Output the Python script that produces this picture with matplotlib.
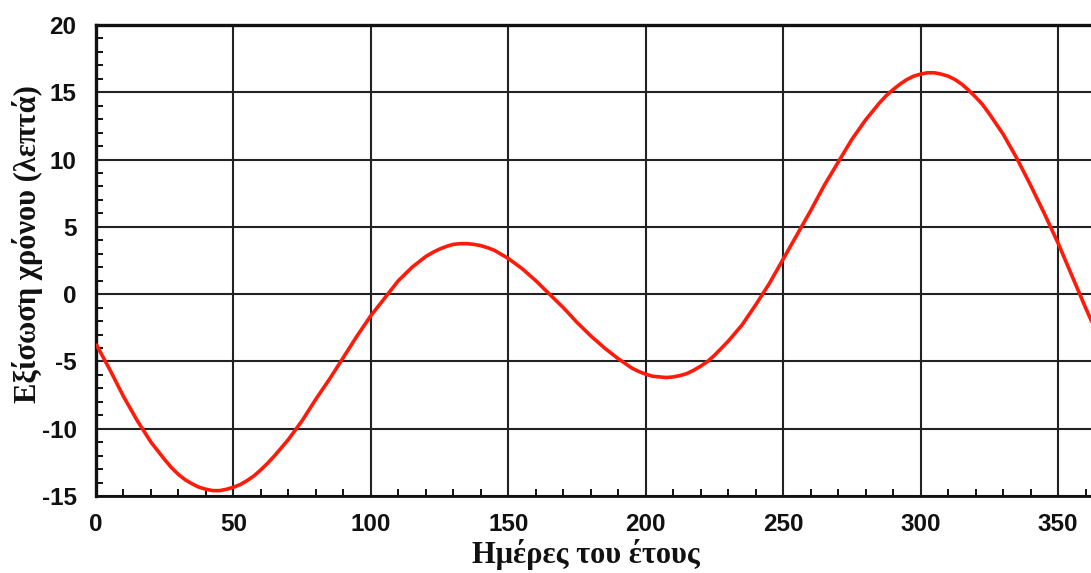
"""
Equation of time over the days of the year (Greek labels).
"""
import matplotlib
matplotlib.use("Agg")
import matplotlib.pyplot as plt
from matplotlib.ticker import MultipleLocator

plt.rcParams["axes.unicode_minus"] = False

# day of year (denser around the turning points)
days = [
    0, 5, 10, 15, 20, 25, 27.5, 30, 32.5, 35, 37.5, 40, 42.5, 45, 47.5,
    50, 52.5, 55, 57.5, 60, 62.5, 65, 70, 75, 80, 85, 90, 95, 100, 105,
    110, 115, 120, 122.5, 125, 127.5, 130, 132.5, 135, 137.5, 140, 142.5,
    145, 147.5, 150, 155, 160, 165, 170, 175, 180, 185, 190, 195, 197.5,
    200, 202.5, 205, 207.5, 210, 212.5, 215, 217.5, 220, 222.5, 225, 230,
    235, 240, 245, 250, 255, 260, 265, 270, 275, 280, 285, 287.5, 290,
    292.5, 295, 297.5, 300, 302.5, 305, 307.5, 310, 312.5, 315, 317.5,
    320, 322.5, 325, 330, 335, 340, 345, 350, 355, 360, 365,
]
# equation of time in minutes
eot = [
    -3.7, -5.6, -7.6, -9.4, -11.0, -12.3, -12.9, -13.4, -13.8, -14.1,
    -14.35, -14.5, -14.6, -14.6, -14.5,
    -14.35, -14.15, -13.85, -13.5, -13.05, -12.55, -12.0, -10.8, -9.4,
    -7.8, -6.3, -4.7, -3.1, -1.6, -0.3,
    1.0, 2.0, 2.8, 3.1, 3.35, 3.55, 3.7, 3.75, 3.75, 3.7, 3.6, 3.45,
    3.25, 2.95, 2.65, 1.9, 1.0, 0.0, -1.0, -2.1, -3.1, -4.0, -4.8, -5.5,
    -5.75,
    -5.95, -6.1, -6.15, -6.2, -6.15, -6.05, -5.9, -5.65, -5.35, -5.0,
    -4.55, -3.5,
    -2.3, -0.8, 0.8, 2.6, 4.4, 6.2, 8.1, 9.8, 11.5, 12.95, 14.2, 14.75,
    15.2,
    15.6, 15.95, 16.2, 16.35, 16.45, 16.45, 16.35, 16.2, 15.95, 15.6,
    15.15,
    14.65, 14.1, 13.4, 11.9, 10.1, 8.1, 6.0, 3.8, 1.4, -1.0, -3.3,
]

XLABEL = "Ημέρες του έτους"
YLABEL = "Εξίσωση χρόνου (λεπτά)"

fig = plt.figure(figsize=(10.91, 5.73), dpi=100)
ax = fig.add_axes([96 / 1091, 77 / 573, 1 - 96 / 1091, 471 / 573])

ax.plot(days, eot, color="#ff1a0a", lw=2.6, zorder=3,
        solid_joinstyle="round", solid_capstyle="butt")

ax.set_xlim(0, 362)
ax.set_ylim(-15, 20)
ax.xaxis.set_major_locator(MultipleLocator(50))
ax.xaxis.set_minor_locator(MultipleLocator(10))
ax.yaxis.set_major_locator(MultipleLocator(5))
ax.yaxis.set_minor_locator(MultipleLocator(1))

ax.grid(True, which="major", color="#222222", lw=1.5, zorder=1)
ax.tick_params(which="both", direction="in", top=False, right=False,
               colors="#111111")
ax.tick_params(which="major", length=0, pad=12, labelsize=17.5)
ax.tick_params(axis="y", which="major", pad=14)
ax.tick_params(which="minor", length=5, width=1.4)
for lab in ax.get_xticklabels() + ax.get_yticklabels():
    lab.set_fontweight("bold")
    lab.set_family("Liberation Sans")

ax.spines["right"].set_visible(False)
ax.spines["top"].set_linewidth(2.4)
ax.spines["left"].set_linewidth(2.4)
ax.spines["bottom"].set_linewidth(2.0)
for s in ("top", "left", "bottom"):
    ax.spines[s].set_color("#111111")

ax.set_xlabel(XLABEL, family="Liberation Serif", fontweight="bold",
              fontsize=22, color="#111111")
ax.set_ylabel(YLABEL, family="Liberation Serif", fontweight="bold",
              fontsize=22, color="#111111")
ax.xaxis.set_label_coords((586 - 96) / 995, -(555 - 496) / 471)
ax.yaxis.set_label_coords(-(96 - 28) / 995, (496 - 244) / 471)
ax.xaxis.label.set_va("center")
ax.yaxis.label.set_va("center")

fig.savefig("out.png", dpi=100, facecolor="white")
